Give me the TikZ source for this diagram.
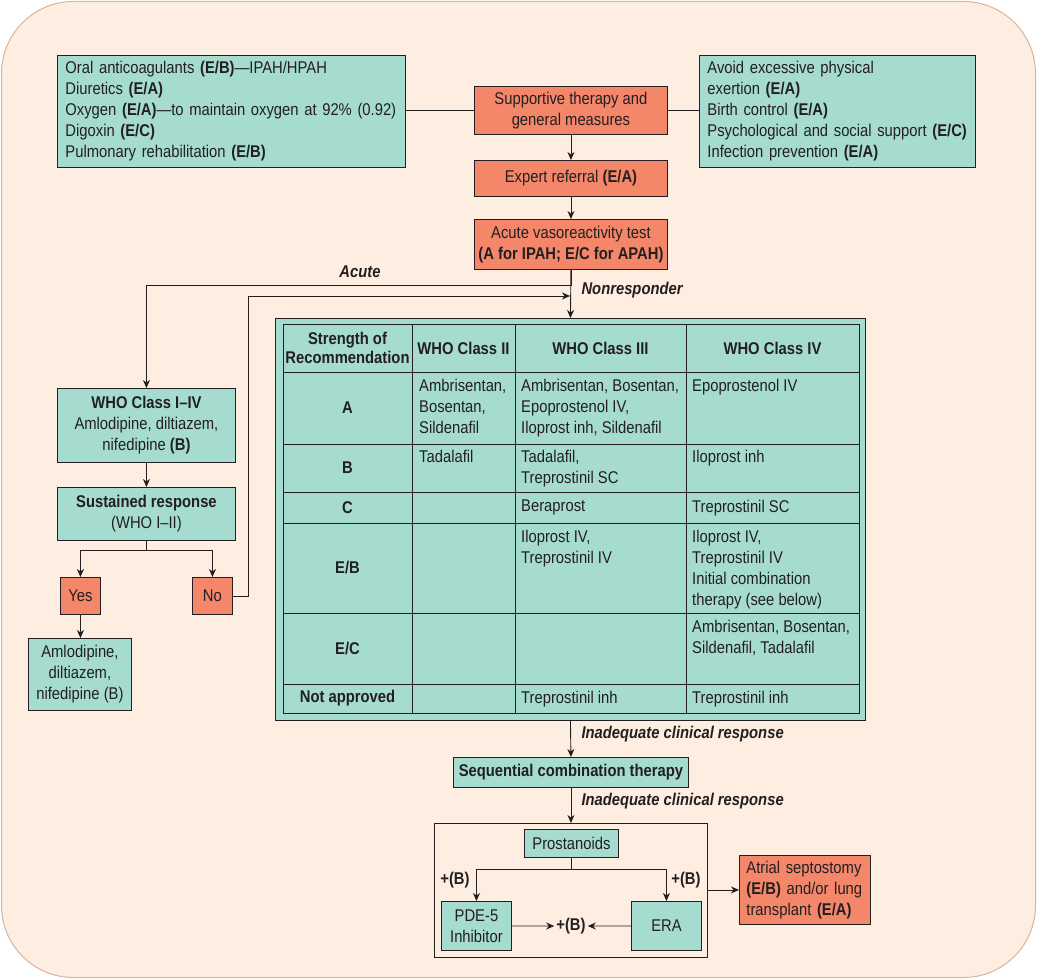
\documentclass[tikz,border=0pt]{standalone}
\usepackage{fontspec}
\setmainfont[FakeStretch=0.87]{Liberation Sans}
\usetikzlibrary{arrows.meta}
\definecolor{bgc}{HTML}{FDEEE1}
\definecolor{framec}{HTML}{D9B49A}
\definecolor{tealc}{HTML}{A5DCCF}
\definecolor{salmc}{HTML}{F4866A}
\definecolor{ink}{HTML}{231F20}
\newcommand{\lines}[1]{\begin{tabular}{@{}l@{}}#1\end{tabular}}
\begin{document}
\begin{tikzpicture}[x=1pt,y=-1pt,
  every node/.style={font=\fontsize{17}{21}\selectfont, text=ink},
  tbox/.style={draw=ink, fill=tealc, line width=0.9pt, inner sep=0pt, anchor=north west, align=center},
  sbox/.style={draw=ink, fill=salmc, line width=0.9pt, inner sep=0pt, anchor=north west, align=center},
  lbox/.style={inner xsep=8pt, inner ysep=0pt, align=left},
  arr/.style={draw=ink, line width=0.9pt, -{Stealth[length=8pt,width=7pt,inset=2.5pt]}},
  ln/.style={draw=ink, line width=0.9pt},
  cell/.style={inner sep=0pt, anchor=north west, align=left},
  lab/.style={font=\fontsize{17}{21}\selectfont\bfseries\itshape},
  bt/.style={font=\fontsize{17}{21}\selectfont\bfseries},
  grid/.style={draw=ink, line width=0.9pt}]
\useasboundingbox (0,0) rectangle (1037,979);
\draw[draw=framec, fill=bgc, line width=1pt, rounded corners=72pt] (1.5,1.5) rectangle (1035.5,977.5);

% top boxes
\node[tbox, lbox, minimum width=348pt, minimum height=112pt, text width=332pt] (care) at (57,55)
 {\lines{Oral anticoagulants \textbf{(E/B)}—IPAH/HPAH\\Diuretics \textbf{(E/A)}\\Oxygen \textbf{(E/A)}—to maintain oxygen at 92\% (0.92)\\Digoxin \textbf{(E/C)}\\Pulmonary rehabilitation \textbf{(E/B)}}};
\node[tbox, lbox, minimum width=276pt, minimum height=112pt, text width=260pt] (gen) at (699,55)
 {\lines{Avoid excessive physical\\exertion \textbf{(E/A)}\\Birth control \textbf{(E/A)}\\Psychological and social support \textbf{(E/C)}\\Infection prevention \textbf{(E/A)}}};
\node[sbox, minimum width=193pt, minimum height=48pt] (supp) at (474,86) {Supportive therapy and\\general measures};
\node[sbox, minimum width=193pt, minimum height=36pt] (expert) at (474,160) {Expert referral \textbf{(E/A)}};
\node[sbox, minimum width=193pt, minimum height=50pt] (avt) at (474,219) {Acute vasoreactivity test\\\textbf{(A for IPAH; E/C for APAH)}};

\draw[ln] (supp.west) -- (supp.west -| care.east);
\draw[ln] (supp.east) -- (supp.east -| gen.west);
\draw[arr] (supp.south) -- (expert.north);
\draw[arr] (expert.south) -- (avt.north);

% table
\node[tbox, minimum width=590pt, minimum height=402pt] (tbl) at (275,318) {};
\draw[grid] (283,324) rectangle (859,713);
\foreach \xx in {412,515,686} \draw[grid] (\xx,324) -- (\xx,713);
\foreach \yy in {372,444,492,523,613,684} \draw[grid] (283,\yy) -- (859,\yy);

\node[align=center, font=\fontsize{17}{19}\selectfont\bfseries] (h0) at (347.5,348) {Strength of\\Recommendation};
\node[bt] (h1) at (463.5,348) {WHO Class II};
\node[bt] (h2) at (600.5,348) {WHO Class III};
\node[bt] (h3) at (772.5,348) {WHO Class IV};

\node[bt] (rA) at (347.5,408) {A};
\node[bt] (rB) at (347.5,468) {B};
\node[bt] (rC) at (347.5,507.5) {C};
\node[bt] (rEB) at (347.5,568) {E/B};
\node[bt] (rEC) at (347.5,648.5) {E/C};
\node[bt] (rNA) at (347.5,698.5) {Not approved};

\node[cell] (c2A) at (419,378.5) {Ambrisentan,\\Bosentan,\\Sildenafil};
\node[cell] (c3A) at (521,378.5) {Ambrisentan, Bosentan,\\Epoprostenol IV,\\Iloprost inh, Sildenafil};
\node[cell] (c4A) at (692,378.5) {Epoprostenol IV};
\node[cell] (c2B) at (419,449.5) {Tadalafil};
\node[cell] (c3B) at (521,449.5) {Tadalafil,\\Treprostinil SC};
\node[cell] (c4B) at (692,449.5) {Iloprost inh};
\node[cell] (c3C) at (521,499.5) {Beraprost};
\node[cell] (c4C) at (692,499.5) {Treprostinil SC};
\node[cell] (c3EB) at (521,529.5) {Iloprost IV,\\Treprostinil IV};
\node[cell] (c4EB) at (692,529.5) {Iloprost IV,\\Treprostinil IV\\Initial combination\\therapy (see below)};
\node[cell] (c4EC) at (692,619.5) {Ambrisentan, Bosentan,\\Sildenafil, Tadalafil};
\node[cell] (c3NA) at (521,690.5) {Treprostinil inh};
\node[cell] (c4NA) at (692,690.5) {Treprostinil inh};

\draw[arr] (avt.south) -- (tbl.north);

% left column
\node[tbox, minimum width=178pt, minimum height=74pt] (who) at (57,388) {\textbf{WHO Class I–IV}\\Amlodipine, diltiazem,\\nifedipine \textbf{(B)}};
\node[tbox, minimum width=178pt, minimum height=53pt] (sust) at (57,487) {\textbf{Sustained response}\\(WHO I–II)};
\node[sbox, minimum width=40pt, minimum height=37pt] (yes) at (60,577) {Yes};
\node[sbox, minimum width=40pt, minimum height=37pt] (no) at (192,577) {No};
\node[tbox, minimum width=103pt, minimum height=72pt] (amlo) at (28,638) {Amlodipine,\\diltiazem,\\nifedipine (B)};

\draw[arr] (avt.south) -- ++(0,16) -| (who.north);
\node[lab] (acute) at (360,272) {Acute};
\coordinate (nrtip) at (570,296);
\draw[arr] (no.east) -- ++(16,0) |- (nrtip);
\node[lab, anchor=west] (nonresp) at (578,290) {Nonresponder};

\draw[arr] (who.south) -- (sust.north);
\draw[ln] (sust.south) -- ++(0,10) coordinate (br);
\draw[arr] (br) -| (yes.north);
\draw[arr] (br) -| (no.north);
\draw[arr] (yes.south) -- (yes.south |- amlo.north);

% bottom
\node[tbox, minimum width=235pt, minimum height=30pt] (seq) at (453,757) {\textbf{Sequential combination therapy}};
\draw[arr] (tbl.south) -- (seq.north);
\node[lab, anchor=west] (inad1) at (578,734) {Inadequate clinical response};
\node[draw=ink, line width=0.9pt, minimum width=273pt, minimum height=134pt, anchor=north west, inner sep=0pt] (combo) at (434,823) {};
\draw[arr] (seq.south) -- (combo.north);
\node[lab, anchor=west] (inad2) at (578,801) {Inadequate clinical response};

\node[tbox, minimum width=94pt, minimum height=28pt] (pros) at (524,829) {Prostanoids};
\node[tbox, minimum width=70pt, minimum height=49pt] (pde) at (441,901) {PDE-5\\Inhibitor};
\node[tbox, minimum width=70pt, minimum height=49pt] (era) at (631,901) {ERA};
\node[bt, inner sep=2pt] (plusb) at (571,926) {+(B)};
\node[bt] (pl1) at (455,880) {+(B)};
\node[bt] (pl2) at (686,880) {+(B)};
\draw[ln] (pros.south) -- ++(0,12) coordinate (br2);
\draw[arr] (br2) -| (pde.north);
\draw[arr] (br2) -| (era.north);
\draw[arr] (pde.east) -- (plusb.west);
\draw[arr] (era.west) -- (plusb.east);

\node[sbox, inner xsep=7pt, align=left, minimum width=131pt, minimum height=69pt, text width=117pt] (atrial) at (739,855) {\lines{Atrial septostomy\\\textbf{(E/B)} and/or lung\\transplant \textbf{(E/A)}}};
\draw[arr] (combo.east |- atrial.west) -- (atrial.west);
\end{tikzpicture}
\end{document}
